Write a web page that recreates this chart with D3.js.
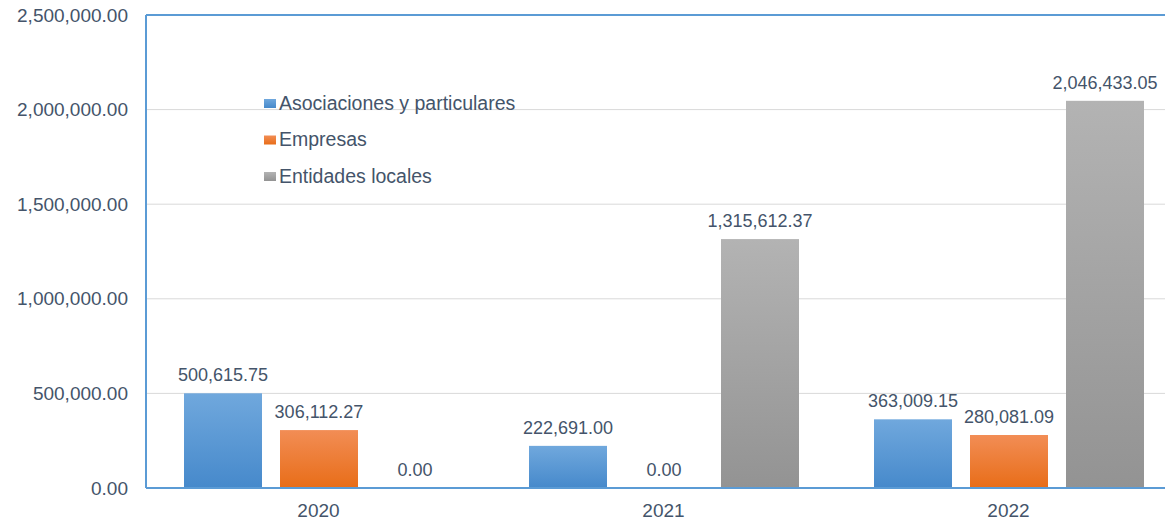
<!DOCTYPE html>
<html>
<head>
<meta charset="utf-8">
<script src="https://cdn.jsdelivr.net/npm/d3@7"></script>
<style>
  body { margin: 0; background: #fff; }
  #chart { width: 1165px; height: 525px; }
  text { font-family: "Liberation Sans", Arial, sans-serif; fill: #44546a; }
</style>
</head>
<body>
<div id="chart"></div>
<script>
const years = ["2020", "2021", "2022"];
const seriesNames = ["Asociaciones y particulares", "Empresas", "Entidades locales"];
const asociaciones = [500615.75, 222691.00, 363009.15];
const empresas = [306112.27, 0, 280081.09];
const entidades = [0, 1315612.37, 2046433.05];
const yTicks = [0, 500000, 1000000, 1500000, 2000000, 2500000];

const colors = [
  ["#70a8dd", "#4689cb"],
  ["#f28d55", "#e86d18"],
  ["#b3b3b3", "#939393"]
];

const margin = {top: 15, right: -16, bottom: 37, left: 146};
const W = 1165, H = 525;
const width = W - margin.left - margin.right;
const height = H - margin.top - margin.bottom;

const svg = d3.select("#chart").append("svg")
  .attr("width", W).attr("height", H);

const defs = svg.append("defs");
colors.forEach((c, i) => {
  const g = defs.append("linearGradient").attr("id", "grad" + i)
    .attr("x1", 0).attr("y1", 0).attr("x2", 0).attr("y2", 1);
  g.append("stop").attr("offset", "0%").attr("stop-color", c[0]);
  g.append("stop").attr("offset", "100%").attr("stop-color", c[1]);
});

const g = svg.append("g").attr("transform", `translate(${margin.left},${margin.top})`);

const x0 = d3.scaleBand().domain(years).range([0, width]).paddingInner(0).paddingOuter(0);
const x1 = d3.scaleBand().domain(d3.range(3)).range([38, 308]).paddingInner(0.1875).paddingOuter(0);
const y = d3.scaleLinear().domain([0, 2500000]).range([height, 0]);

const fmt = d3.format(",.2f");

// gridlines
g.append("g").selectAll("line").data(yTicks.slice(1, -1)).join("line")
  .attr("x1", 0).attr("x2", width)
  .attr("y1", d => y(d)).attr("y2", d => y(d))
  .attr("stroke", "#d9d9d9").attr("stroke-width", 1);

// y axis labels
const yAxis = g.append("g")
  .call(d3.axisLeft(y).tickValues(yTicks).tickSize(0).tickPadding(18).tickFormat(fmt));
yAxis.select(".domain").remove();
yAxis.selectAll("text").style("font-size", "19px").attr("fill", "#44546a");

// bars
const data = years.map((yr, i) => ({year: yr, values: [asociaciones[i], empresas[i], entidades[i]]}));
const groups = g.selectAll(".grp").data(data).join("g")
  .attr("transform", d => `translate(${x0(d.year)},0)`);

groups.selectAll("rect").data(d => d.values.map((v, k) => ({k, v}))).join("rect")
  .attr("x", d => x1(d.k))
  .attr("width", x1.bandwidth())
  .attr("y", d => y(d.v))
  .attr("height", d => height - y(d.v))
  .attr("fill", d => `url(#grad${d.k})`);

groups.selectAll(".lbl").data(d => d.values.map((v, k) => ({k, v}))).join("text")
  .attr("class", "lbl")
  .attr("x", d => x1(d.k) + x1.bandwidth() / 2)
  .attr("y", d => y(d.v) - 12)
  .attr("text-anchor", "middle")
  .style("font-size", "18px")
  .text(d => fmt(d.v));

// axes lines
g.append("line").attr("x1", 0).attr("x2", width).attr("y1", 0).attr("y2", 0)
  .attr("stroke", "#5b9bd5").attr("stroke-width", 2);
g.append("line").attr("x1", 0).attr("x2", 0).attr("y1", 0).attr("y2", height)
  .attr("stroke", "#5b9bd5").attr("stroke-width", 2);
g.append("line").attr("x1", 0).attr("x2", width).attr("y1", height).attr("y2", height)
  .attr("stroke", "#5b9bd5").attr("stroke-width", 2);

// x axis labels
const xAxis = g.append("g").attr("transform", `translate(0,${height})`)
  .call(d3.axisBottom(x0).tickSize(0).tickPadding(16));
xAxis.select(".domain").remove();
xAxis.selectAll("text").style("font-size", "19px").attr("fill", "#44546a");

// legend
const legend = g.append("g").attr("transform", "translate(118,88)");
seriesNames.forEach((name, i) => {
  const item = legend.append("g").attr("transform", `translate(0,${i * 36.5})`);
  item.append("rect").attr("x", 0).attr("y", -4).attr("width", 12).attr("height", 9)
    .attr("fill", `url(#grad${i})`);
  item.append("text").attr("x", 15).attr("y", 0).attr("dy", "0.35em")
    .style("font-size", "19.5px").text(name);
});
</script>
</body>
</html>
